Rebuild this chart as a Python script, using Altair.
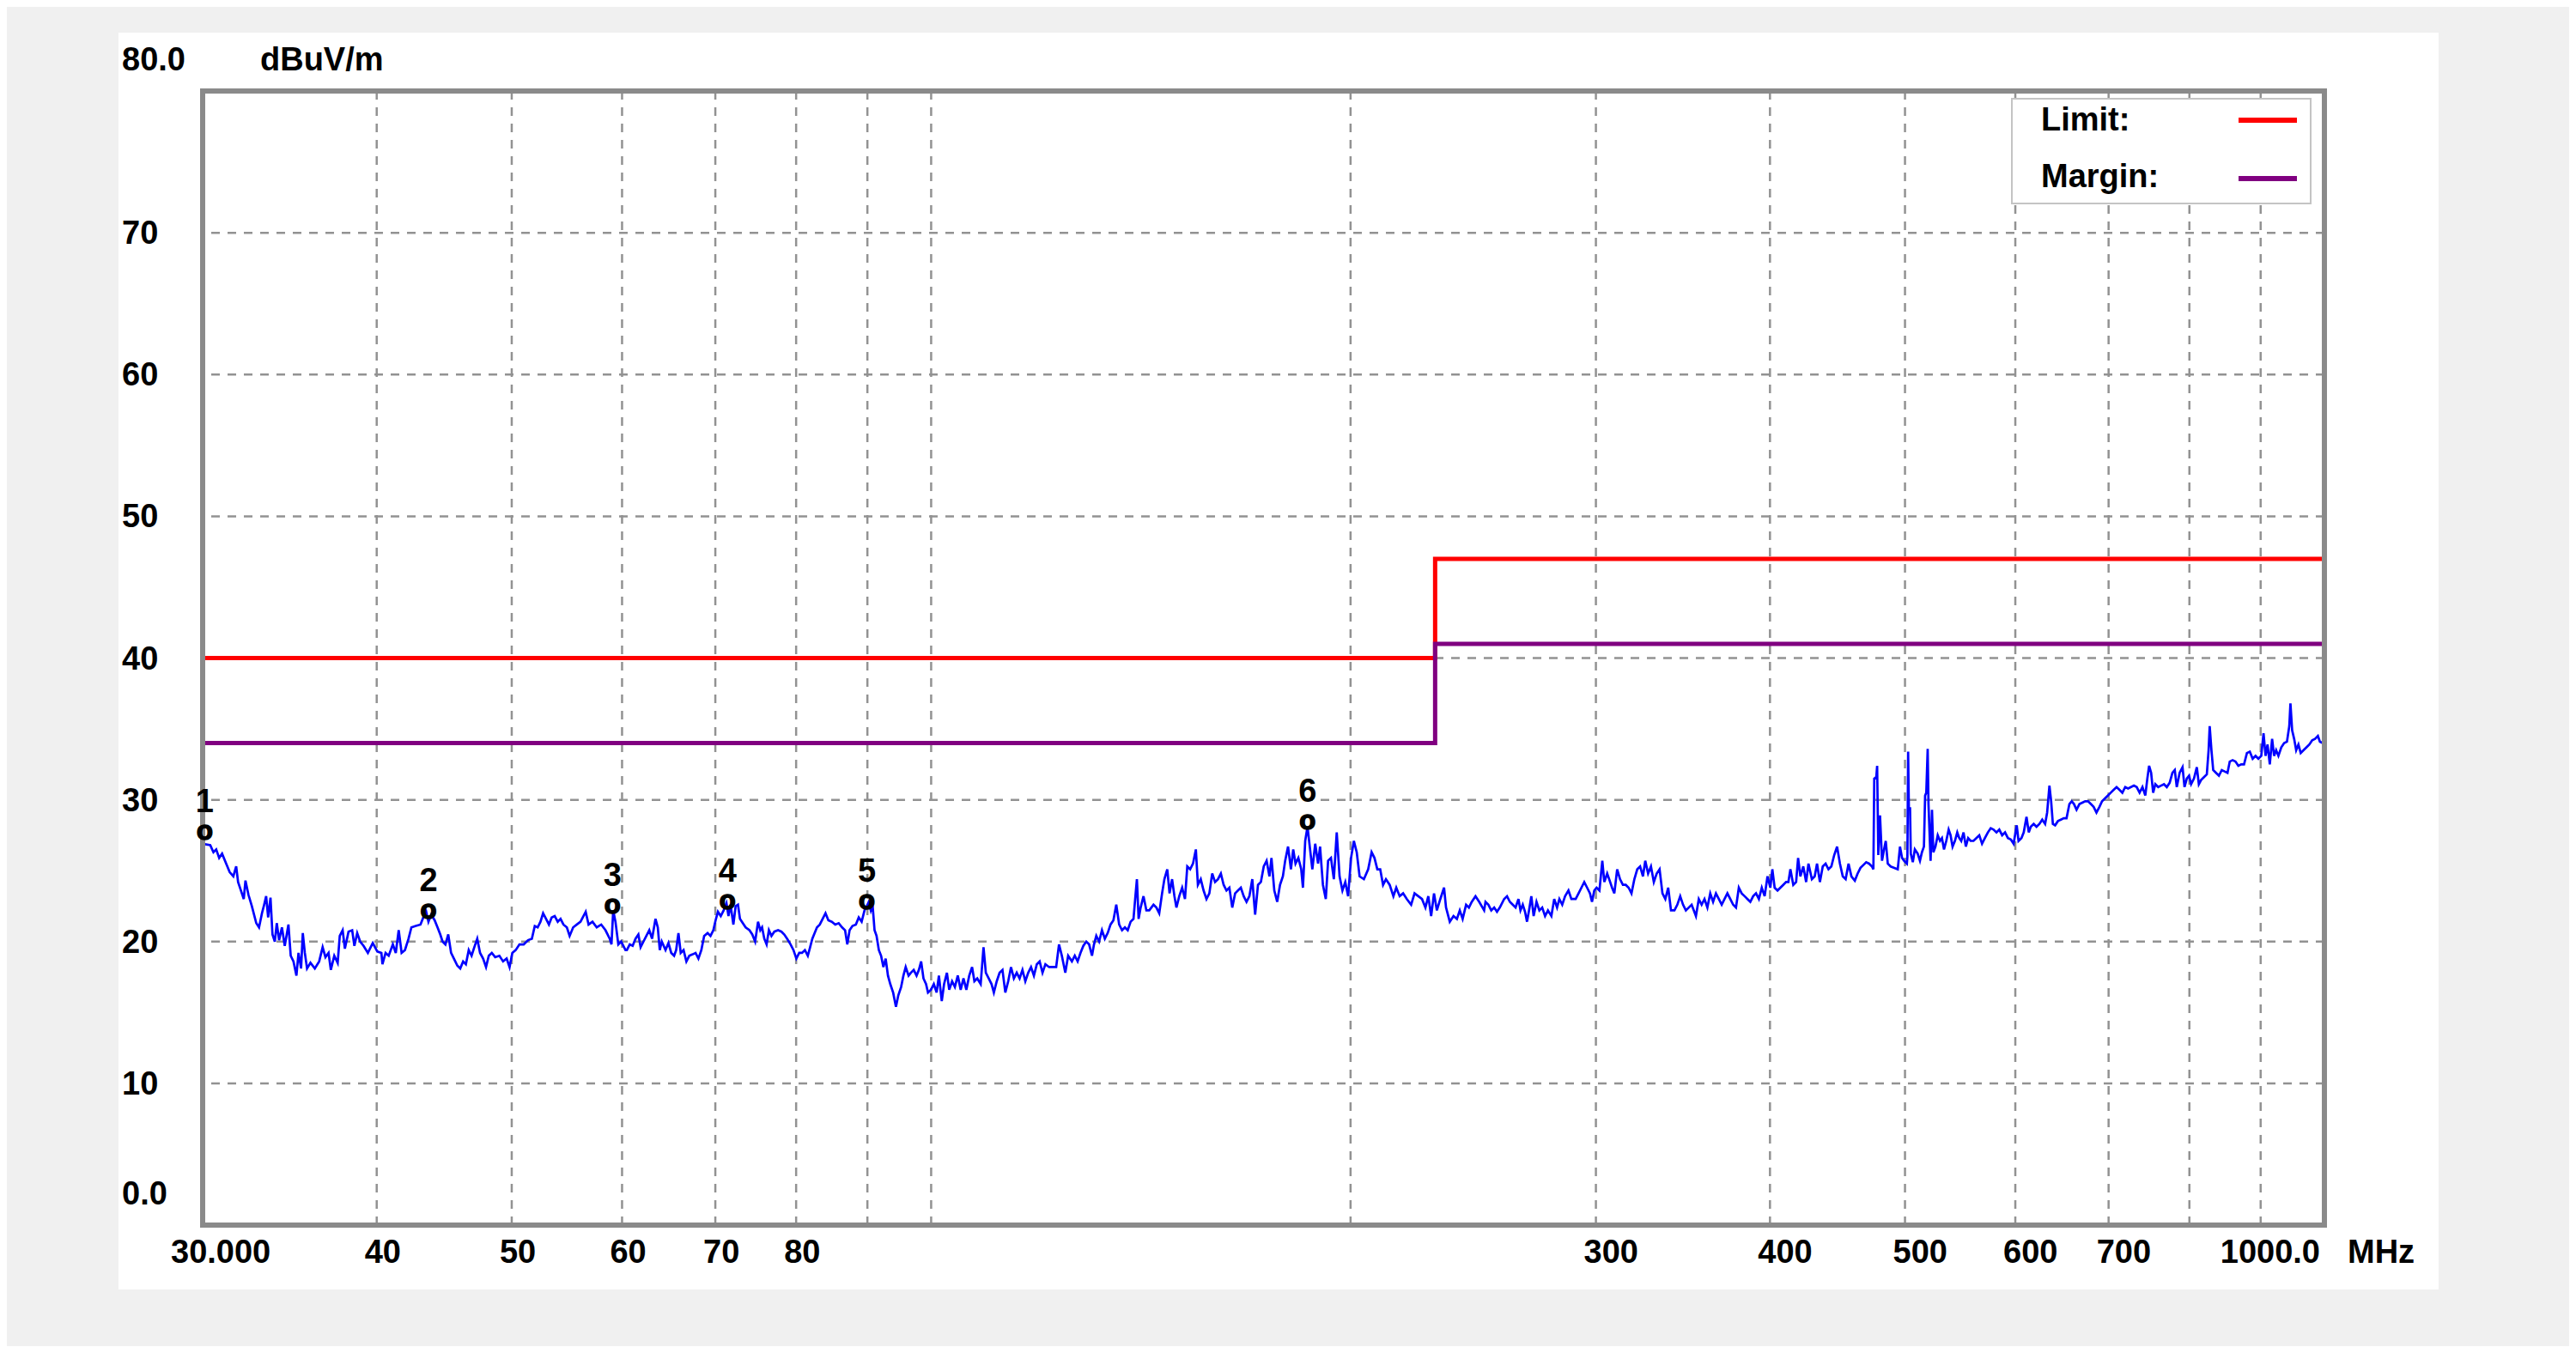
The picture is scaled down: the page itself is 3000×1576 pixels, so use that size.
import altair as alt
import pandas as pd

# ---------------- data ----------------
# measured trace, (frequency MHz, level dBuV/m), split by frequency band
TRACE_30_60 = [
    (30.0, 26.9), (30.38, 26.8), (30.54, 26.3), (30.68, 26.5), (30.83, 25.9), (30.98, 26.2),
    (31.19, 25.5), (31.37, 24.9), (31.56, 24.6), (31.71, 25.3), (31.81, 24.2), (31.96, 23.6),
    (32.11, 23.0), (32.20, 24.3), (32.36, 23.3), (32.54, 22.5), (32.78, 21.3), (32.93, 21.0),
    (33.09, 22.0), (33.21, 22.6), (33.32, 23.2), (33.43, 21.7), (33.56, 23.1), (33.67, 20.5),
    (33.80, 20.0), (33.91, 21.3), (34.04, 20.1), (34.20, 21.0), (34.36, 19.7), (34.57, 21.2),
    (34.70, 19.0), (34.86, 18.6), (35.03, 17.6), (35.15, 19.2), (35.30, 18.1), (35.40, 20.6),
    (35.52, 19.2), (35.65, 18.1), (35.85, 18.5), (36.11, 18.1), (36.37, 18.6), (36.58, 19.6),
    (36.75, 18.9), (36.94, 19.2), (37.08, 18.0), (37.29, 19.0), (37.50, 18.5), (37.63, 20.4),
    (37.81, 20.8), (37.95, 19.5), (38.18, 20.7), (38.41, 20.8), (38.55, 19.7), (38.73, 20.6),
    (38.92, 20.0), (39.14, 19.7), (39.42, 19.2), (39.74, 19.9), (40.04, 19.3), (40.31, 19.2),
    (40.38, 18.4), (40.59, 19.2), (40.80, 19.0), (41.08, 19.8), (41.28, 19.2), (41.48, 20.8),
    (41.68, 19.2), (41.91, 19.4), (42.16, 20.2), (42.36, 21.0), (42.67, 21.1), (43.00, 21.2),
    (43.20, 21.7), (43.41, 22.1), (43.57, 21.4), (43.77, 21.9), (44.02, 21.5), (44.23, 21.0),
    (44.43, 20.5), (44.60, 20.0), (44.81, 19.8), (45.02, 20.5), (45.23, 19.2), (45.49, 18.7),
    (45.70, 18.3), (45.92, 18.1), (46.14, 18.6), (46.35, 18.4), (46.57, 19.4), (46.79, 19.0),
    (47.00, 19.6), (47.23, 20.2), (47.45, 19.2), (47.69, 18.8), (47.92, 18.2), (48.14, 19.0),
    (48.38, 19.2), (48.65, 18.9), (48.99, 19.0), (49.29, 18.6), (49.58, 18.8), (49.82, 18.2),
    (50.05, 19.2), (50.33, 19.4), (50.64, 19.8), (51.00, 19.8), (51.37, 20.1), (51.69, 20.2),
    (51.94, 21.1), (52.19, 21.0), (52.43, 21.4), (52.66, 22.0), (52.92, 21.6), (53.17, 21.2),
    (53.41, 21.7), (53.68, 21.8), (53.95, 21.4), (54.20, 21.6), (54.46, 21.2), (54.77, 21.0),
    (55.02, 20.4), (55.34, 21.0), (55.68, 21.2), (56.02, 21.4), (56.29, 21.8), (56.50, 22.1),
    (56.77, 21.2), (57.14, 21.4), (57.54, 21.0), (57.97, 21.2), (58.38, 20.8), (58.79, 20.2),
    (58.96, 19.8), (59.13, 22.2), (59.35, 21.4), (59.63, 19.8), (59.91, 20.0), (60.34, 19.4),
]
TRACE_60_122 = [
    (60.48, 19.4), (60.77, 19.8), (61.06, 19.7), (61.35, 20.2), (61.64, 20.5), (61.87, 19.6),
    (62.16, 20.0), (62.46, 20.4), (62.76, 20.8), (63.05, 20.2), (63.41, 21.6), (63.65, 21.0),
    (63.86, 19.4), (64.07, 20.0), (64.47, 19.4), (64.78, 19.9), (65.08, 19.2), (65.39, 19.0),
    (65.61, 19.4), (65.86, 20.6), (66.11, 19.2), (66.42, 19.4), (66.73, 18.6), (67.05, 19.0),
    (67.43, 19.1), (67.75, 19.2), (68.07, 18.8), (68.40, 19.4), (68.72, 20.4), (69.11, 20.6),
    (69.44, 20.4), (69.77, 20.8), (70.03, 21.5), (70.30, 22.1), (70.63, 21.8), (70.97, 22.2),
    (71.30, 22.7), (71.54, 21.8), (71.78, 22.6), (72.12, 21.2), (72.39, 22.5), (72.67, 22.6),
    (72.91, 21.6), (73.25, 21.3), (73.60, 21.0), (74.06, 20.8), (74.41, 20.5), (74.76, 20.0),
    (75.12, 21.4), (75.40, 20.8), (75.62, 21.0), (75.90, 20.2), (76.19, 19.8), (76.48, 20.8),
    (76.80, 20.4), (77.17, 20.7), (77.65, 20.8), (78.08, 20.7), (78.45, 20.5), (78.82, 20.2),
    (79.27, 19.8), (79.65, 19.4), (80.03, 18.8), (80.41, 19.2), (80.79, 19.2), (81.17, 19.4),
    (81.56, 19.0), (81.87, 19.6), (82.17, 20.2), (82.49, 20.6), (82.80, 21.0), (83.19, 21.2),
    (83.58, 21.6), (83.98, 22.0), (84.38, 21.5), (84.86, 21.4), (85.35, 21.2), (85.83, 21.3),
    (86.32, 21.0), (86.74, 20.8), (87.06, 19.8), (87.39, 20.8), (87.81, 21.1), (88.30, 21.2),
    (88.72, 21.7), (89.15, 21.4), (89.57, 22.2), (89.91, 22.5), (90.20, 22.8), (90.51, 22.2),
    (90.77, 22.6), (91.07, 20.8), (91.37, 20.4), (91.72, 19.4), (92.06, 19.0), (92.41, 18.2),
    (92.76, 18.8), (93.11, 17.6), (93.47, 17.0), (93.91, 16.4), (94.35, 15.4), (94.71, 16.2),
    (95.16, 16.8), (95.52, 17.6), (95.88, 18.2), (96.34, 17.6), (96.70, 17.8), (97.16, 18.0),
    (97.62, 17.6), (97.99, 18.0), (98.36, 18.6), (98.74, 17.4), (99.16, 17.0), (99.48, 16.4),
    (99.96, 16.6), (100.44, 17.0), (100.91, 16.4), (101.29, 17.6), (101.77, 15.8), (102.16, 17.0),
    (102.64, 17.8), (103.03, 16.6), (103.52, 17.2), (104.00, 16.8), (104.50, 17.6), (105.00, 16.6),
    (105.49, 17.4), (105.99, 16.6), (106.50, 17.6), (107.00, 18.2), (107.41, 17.2), (107.92, 17.4),
    (108.53, 17.0), (109.04, 19.6), (109.46, 17.8), (109.98, 17.4), (110.50, 17.0), (110.92, 16.4),
    (111.45, 17.2), (111.98, 17.8), (112.51, 18.0), (113.04, 16.4), (113.58, 17.2), (114.11, 18.2),
    (114.65, 17.4), (115.19, 17.8), (115.74, 17.4), (116.29, 18.0), (116.84, 17.2), (117.40, 17.8),
    (117.95, 18.2), (118.51, 17.6), (119.08, 18.4), (119.64, 18.6), (120.21, 17.8), (120.78, 18.4),
    (121.53, 18.2), (122.40, 18.2),
]
TRACE_122_250 = [
    (122.95, 18.2), (123.53, 19.8), (124.11, 19.0), (124.82, 17.8), (125.41, 19.0), (126.19, 18.6),
    (126.79, 19.0), (127.39, 18.6), (127.99, 19.2), (128.60, 19.7), (129.22, 20.0), (129.83, 19.8),
    (130.45, 19.0), (130.88, 19.8), (131.38, 20.4), (131.99, 20.0), (132.62, 20.8), (133.25, 20.2),
    (133.88, 20.6), (134.51, 21.2), (135.15, 21.5), (135.79, 22.6), (136.44, 21.2), (137.09, 20.8),
    (137.74, 21.0), (138.39, 20.8), (139.05, 21.4), (139.71, 21.6), (140.10, 23.0), (140.50, 24.4),
    (140.90, 21.6), (141.37, 22.4), (142.04, 23.2), (142.72, 22.2), (143.40, 22.2), (144.41, 22.6),
    (145.09, 22.4), (145.78, 22.0), (146.47, 23.4), (147.03, 24.4), (147.73, 25.1), (148.29, 23.4),
    (148.91, 24.4), (149.49, 23.2), (149.98, 22.4), (150.69, 23.2), (151.41, 23.8), (152.12, 23.0),
    (152.70, 25.3), (153.43, 25.1), (154.15, 25.5), (154.88, 26.5), (155.40, 24.0), (156.14, 24.4),
    (156.87, 23.6), (157.62, 23.0), (158.37, 23.4), (159.12, 24.8), (159.87, 24.2), (160.64, 24.4),
    (161.41, 24.8), (162.16, 24.0), (162.92, 23.6), (163.70, 23.8), (164.48, 22.4), (165.26, 23.4),
    (166.04, 23.6), (166.83, 23.8), (167.62, 23.2), (168.41, 22.8), (169.21, 23.2), (170.02, 24.4),
    (170.82, 21.9), (171.63, 24.0), (172.45, 24.2), (173.27, 25.3), (174.09, 25.7), (174.91, 24.6),
    (175.49, 25.9), (176.32, 23.6), (177.16, 22.8), (177.99, 24.0), (178.84, 24.6), (179.51, 25.7),
    (180.37, 26.7), (181.23, 25.1), (181.92, 26.5), (182.61, 25.5), (183.47, 25.9), (184.34, 25.1),
    (184.86, 23.8), (185.56, 27.1), (186.26, 28.1), (186.96, 26.7), (187.76, 25.1), (188.65, 26.9),
    (189.54, 25.5), (190.17, 26.7), (191.07, 24.0), (191.98, 23.0), (192.71, 25.7), (193.63, 25.9),
    (194.55, 24.4), (195.48, 27.7), (196.40, 24.6), (197.33, 23.6), (198.26, 24.2), (199.20, 23.2),
    (200.16, 25.9), (201.10, 27.1), (202.05, 26.3), (203.01, 24.6), (204.46, 24.4), (205.91, 25.1),
    (207.08, 26.3), (208.06, 25.9), (209.05, 25.1), (210.04, 25.1), (211.04, 24.0), (212.04, 24.4),
    (213.35, 24.0), (214.67, 23.2), (215.69, 23.8), (216.91, 23.2), (218.15, 23.4), (219.49, 23.0),
    (221.06, 22.6), (222.31, 23.4), (223.68, 23.2), (225.06, 23.0), (226.34, 22.4), (227.42, 23.2),
    (228.49, 21.8), (229.58, 23.4), (230.67, 22.2), (231.98, 23.0), (233.41, 23.8), (234.18, 22.4),
    (235.64, 21.4), (237.09, 21.8), (238.43, 21.6), (239.56, 22.2), (240.70, 21.6), (242.07, 22.6),
    (243.21, 22.4), (244.36, 22.8), (245.87, 23.2), (247.38, 22.8), (249.40, 22.2),
]
TRACE_250_508 = [
    (249.97, 22.8), (251.16, 22.6), (252.36, 22.2), (253.57, 22.4), (254.75, 22.1), (255.95, 22.4),
    (257.78, 23.0), (259.01, 23.2), (260.24, 22.8), (261.47, 22.6), (262.70, 22.4), (263.96, 23.0),
    (264.84, 22.2), (265.84, 22.6), (266.84, 22.1), (267.72, 21.4), (268.61, 22.2), (269.63, 23.2),
    (270.66, 21.8), (271.95, 22.8), (273.24, 22.2), (274.52, 22.4), (275.83, 21.8), (277.14, 22.2),
    (278.71, 21.8), (280.03, 23.0), (281.35, 22.4), (282.42, 23.0), (283.76, 22.6), (285.11, 23.2),
    (286.70, 23.6), (288.08, 23.0), (290.14, 23.0), (291.52, 23.4), (292.90, 23.8), (294.28, 24.2),
    (295.68, 23.8), (297.08, 23.4), (298.07, 22.8), (299.20, 23.6), (300.33, 23.8), (301.76, 23.6),
    (303.19, 25.7), (304.20, 24.2), (305.64, 24.8), (306.66, 24.4), (308.11, 23.8), (309.27, 23.4),
    (310.73, 25.1), (312.20, 24.4), (313.68, 24.0), (315.18, 24.0), (316.67, 23.8), (318.17, 23.4),
    (319.69, 24.4), (321.22, 25.1), (322.74, 25.3), (324.26, 24.6), (325.49, 25.7), (327.03, 24.8),
    (328.58, 25.3), (330.14, 24.2), (331.71, 24.8), (333.29, 25.1), (334.88, 23.4), (336.47, 23.0),
    (338.07, 23.8), (339.64, 22.2), (341.58, 22.2), (343.21, 22.6), (344.85, 23.2), (346.47, 22.6),
    (348.10, 22.2), (349.77, 22.4), (351.43, 22.6), (353.93, 21.8), (355.60, 23.0), (357.28, 22.6),
    (358.98, 23.0), (360.69, 22.4), (362.40, 23.4), (364.11, 22.8), (365.83, 23.4), (367.58, 23.0),
    (369.33, 22.6), (371.07, 23.0), (372.82, 23.4), (374.59, 23.0), (376.37, 22.6), (378.15, 22.4),
    (379.93, 23.8), (381.73, 23.4), (383.56, 23.2), (385.39, 23.0), (387.22, 22.8), (389.05, 23.2),
    (390.88, 23.4), (392.74, 23.0), (394.62, 23.8), (396.49, 23.2), (398.37, 24.6), (400.24, 23.8),
    (401.56, 25.1), (403.10, 23.8), (405.02, 23.6), (406.94, 23.8), (408.86, 24.0), (410.78, 24.2),
    (412.35, 24.2), (413.73, 25.1), (415.70, 24.0), (417.66, 24.2), (419.04, 25.9), (420.62, 24.6),
    (422.63, 25.3), (424.64, 24.2), (426.27, 25.5), (428.68, 24.4), (430.69, 24.6), (432.34, 25.5),
    (434.40, 24.2), (436.46, 25.3), (438.53, 25.5), (440.59, 25.1), (442.69, 25.3), (444.80, 26.1),
    (446.91, 26.7), (449.02, 25.5), (451.13, 24.6), (453.29, 24.4), (455.46, 25.5), (457.63, 24.6),
    (460.23, 24.3), (462.36, 24.8), (464.55, 25.2), (466.73, 25.4), (468.93, 25.6), (471.16, 25.5),
    (473.42, 25.3), (474.55, 25.1), (475.23, 31.5), (476.83, 31.6), (477.51, 32.4), (478.42, 26.1),
    (479.78, 28.9), (481.38, 25.7), (482.98, 26.5), (484.35, 27.1), (485.96, 25.5), (488.29, 25.3),
    (491.26, 25.2), (494.04, 25.1), (495.89, 26.7), (497.55, 25.9), (499.20, 25.7), (501.55, 25.5),
    (502.0, 26.0), (502.6, 33.4), (503.2, 29.4), (504.2, 29.4), (504.8, 26.2), (506.5, 25.6),
]
TRACE_508_1000 = [
    (508.2, 26.5), (510.6, 26.2), (512.5, 25.7), (514.2, 26.3), (515.9, 26.7), (516.9, 30.3),
    (517.9, 30.5), (519.1, 33.6), (519.8, 29.7), (521.6, 25.7), (522.8, 29.3), (524.0, 26.3),
    (525.8, 26.7), (527.8, 27.5), (529.8, 27.1), (531.5, 27.3), (533.3, 26.5), (535.3, 27.1),
    (537.4, 27.9), (539.1, 27.5), (540.9, 26.7), (543.0, 27.1), (545.1, 27.7), (546.9, 27.3),
    (548.7, 27.1), (550.8, 27.7), (552.9, 26.7), (555.0, 27.3), (557.3, 27.1), (559.9, 27.1),
    (562.6, 27.3), (565.3, 27.5), (567.9, 26.9), (570.6, 27.3), (573.4, 27.7), (576.1, 28.0),
    (578.8, 27.9), (581.6, 27.7), (584.3, 27.9), (587.1, 27.5), (589.9, 27.7), (592.7, 27.3),
    (595.5, 27.2), (598.3, 26.9), (601.4, 28.2), (603.2, 27.1), (606.1, 27.3), (608.4, 27.7),
    (611.2, 28.8), (613.5, 27.7), (615.5, 28.1), (618.5, 28.3), (621.4, 28.1), (624.4, 28.3),
    (627.3, 28.6), (630.3, 28.3), (632.4, 29.1), (634.8, 31.0), (636.6, 29.9), (638.4, 28.3),
    (640.8, 28.2), (643.8, 28.5), (646.9, 28.6), (650.0, 28.7), (653.0, 28.7), (656.1, 29.7),
    (658.6, 29.9), (661.1, 29.7), (663.9, 29.3), (667.1, 29.7), (670.2, 29.8), (673.4, 29.9),
    (676.6, 29.9), (679.8, 29.7), (682.9, 29.5), (686.1, 29.1), (689.5, 29.5), (692.5, 29.9),
    (695.8, 30.1), (699.1, 30.3), (702.5, 30.5), (705.9, 30.7), (709.3, 30.9), (712.7, 30.7),
    (716.1, 30.5), (719.5, 30.9), (722.9, 30.8), (726.4, 30.9), (729.9, 31.0), (733.3, 30.9),
    (736.8, 30.5), (740.3, 30.9), (743.8, 30.3), (746.3, 31.5), (748.5, 32.4), (751.0, 31.9),
    (753.5, 30.5), (756.2, 31.1), (759.8, 30.9), (763.4, 31.0), (767.1, 31.1), (770.7, 30.9),
    (774.3, 31.2), (777.9, 31.9), (780.9, 32.1), (783.5, 30.9), (787.2, 31.9), (791.0, 32.3),
    (793.6, 30.9), (796.6, 31.5), (799.6, 31.7), (802.3, 31.1), (806.1, 31.5), (809.9, 32.3),
    (812.6, 31.1), (815.6, 31.4), (819.5, 31.6), (823.4, 31.8), (825.8, 33.5), (827.3, 35.2),
    (829.7, 33.5), (832.1, 32.1), (836.0, 31.9), (840.0, 31.7), (844.0, 32.1), (848.0, 32.0),
    (852.0, 31.9), (855.2, 32.7), (859.2, 32.8), (863.3, 32.7), (867.4, 32.4), (871.5, 32.5),
    (875.6, 32.5), (879.8, 33.3), (884.0, 33.4), (888.2, 32.9), (892.4, 33.1), (896.6, 32.9),
    (900.9, 33.1), (904.3, 34.7), (907.3, 33.1), (910.3, 33.9), (913.7, 32.5), (917.2, 34.3),
    (920.2, 33.1), (923.3, 33.5), (926.8, 33.1), (931.2, 33.7), (935.6, 34.0), (940.0, 34.1),
    (943.6, 35.2), (945.4, 36.8), (948.1, 34.9), (951.2, 34.3), (954.4, 33.5), (958.0, 33.9),
    (961.6, 33.3), (966.2, 33.5), (970.8, 33.7), (975.4, 33.9), (980.0, 34.2), (984.6, 34.3),
    (989.3, 34.5), (992.6, 34.1), (997.4, 34.0), (1000.0, 34.3),
]

LIMIT_FREQ = [30, 230, 1000]
LIMIT_LEVEL = [40, 47, 47]
MARGIN_LEVEL = [34, 41, 41]

MARKER_NO = ["1", "2", "3", "4", "5", "6"]
MARKER_FREQ = [30.1, 43.57, 59.05, 71.42, 89.91, 186.26]
MARKER_LEVEL = [27.2, 21.6, 22.0, 22.3, 22.3, 27.9]

GRID_FREQ = [40, 50, 60, 70, 80, 90, 100, 200, 300, 400, 500, 600, 700, 800, 900]
GRID_LEVEL = [10, 20, 30, 40, 50, 60, 70]
X_TICK_FREQ = [40, 50, 60, 70, 80, 300, 400, 500, 600, 700]
X_TICK_TEXT = ["40", "50", "60", "70", "80", "300", "400", "500", "600", "700"]
Y_TICK_LEVEL = [70, 60, 50, 40, 30, 20, 10]
Y_TICK_TEXT = ["70", "60", "50", "40", "30", "20", "10"]
Y_END_LEVEL = [80, 0]
Y_END_TEXT = ["80.0", "0.0"]
FREQ_MIN, FREQ_MAX = 30, 1000
LEVEL_MIN, LEVEL_MAX = 0, 80

# ---------------- styling ----------------
W, H = 2471, 1321
FONT = "Liberation Sans"
FS = 38
GRID_COLOR = "#929292"
FRAME_COLOR = "#8a8a8a"
LIMIT_COLOR = "#ff0000"
MARGIN_COLOR = "#800080"
TRACE_COLOR = "#0000ff"

XS = alt.Scale(type="log", domain=[FREQ_MIN, FREQ_MAX], nice=False)
YS = alt.Scale(domain=[LEVEL_MIN, LEVEL_MAX], nice=False, zero=False)


def X(field="f"):
    return alt.X(f"{field}:Q", scale=XS, axis=None)


def Y(field="v"):
    return alt.Y(f"{field}:Q", scale=YS, axis=None)


def PX(field):
    return alt.X(f"{field}:Q", scale=None, axis=None)


def PY(field):
    return alt.Y(f"{field}:Q", scale=None, axis=None)


trace_rows = TRACE_30_60 + TRACE_60_122 + TRACE_122_250 + TRACE_250_508 + TRACE_508_1000
trace_df = pd.DataFrame(trace_rows, columns=["f", "v"])

limit_df = pd.DataFrame({
    "f": LIMIT_FREQ + LIMIT_FREQ,
    "v": LIMIT_LEVEL + MARGIN_LEVEL,
    "s": ["Limit"] * len(LIMIT_FREQ) + ["Margin"] * len(LIMIT_FREQ),
})
marker_df = pd.DataFrame({"f": MARKER_FREQ, "v": MARKER_LEVEL, "n": MARKER_NO,
                          "o": ["o"] * len(MARKER_NO)})

text_kw = dict(font=FONT, fontSize=FS, fontWeight="bold", color="black", baseline="alphabetic")

# white panel behind the chart (layout box, pixel space)
panel = alt.Chart(pd.DataFrame({"x": [-98], "x2": [2604], "y": [-68], "y2": [1396]})).mark_rect(
    fill="white").encode(x=PX("x"), x2="x2:Q", y=PY("y"), y2="y2:Q")

vgrid = alt.Chart(pd.DataFrame({"f": GRID_FREQ})).mark_rule(
    color=GRID_COLOR, strokeWidth=2.5, strokeDash=[10, 9]
).encode(x=X())

hgrid = alt.Chart(pd.DataFrame({"v": GRID_LEVEL})).mark_rule(
    color=GRID_COLOR, strokeWidth=2.5, strokeDash=[10, 9]
).encode(y=Y())

limits = alt.Chart(limit_df).mark_line(interpolate="step-after", strokeWidth=5).encode(
    x=X(), y=Y(),
    color=alt.Color("s:N", scale=alt.Scale(domain=["Limit", "Margin"],
                                           range=[LIMIT_COLOR, MARGIN_COLOR]), legend=None),
)

trace = alt.Chart(trace_df).mark_line(color=TRACE_COLOR, strokeWidth=2.7).encode(x=X(), y=Y())

frame = alt.Chart(pd.DataFrame({"f": [FREQ_MIN], "f2": [FREQ_MAX],
                                "v": [LEVEL_MIN], "v2": [LEVEL_MAX]})).mark_rect(
    fillOpacity=0, stroke=FRAME_COLOR, strokeWidth=6
).encode(x=X(), x2="f2:Q", y=Y(), y2="v2:Q")

# legend (top right, inside the plot; pixel layout)
leg_box = alt.Chart(pd.DataFrame({"x": [2107], "x2": [2455], "y": [9], "y2": [131]})).mark_rect(
    fill="white", stroke="#c4c4c4", strokeWidth=2
).encode(x=PX("x"), x2="x2:Q", y=PY("y"), y2="y2:Q")

leg_text = alt.Chart(pd.DataFrame({"t": ["Limit:", "Margin:"], "x": [2141, 2141],
                                   "y": [46, 112]})).mark_text(align="left", **text_kw).encode(
    x=PX("x"), y=PY("y"), text="t:N")

leg_lines = alt.Chart(pd.DataFrame({"s": ["Limit", "Margin"], "x": [2371, 2371],
                                    "x2": [2439, 2439], "y": [34, 102]})).mark_rule(
    strokeWidth=6
).encode(
    x=PX("x"), x2="x2:Q", y=PY("y"),
    color=alt.Color("s:N", scale=alt.Scale(domain=["Limit", "Margin"],
                                           range=[LIMIT_COLOR, MARGIN_COLOR]), legend=None),
)

marker_o = alt.Chart(marker_df).mark_text(
    align="center", font=FONT, fontSize=31, fontWeight="bold", color="black",
    stroke="black", strokeWidth=1.6, baseline="alphabetic"
).encode(x=X(), y=Y(), text="o:N")
marker_n = alt.Chart(marker_df).mark_text(align="center", dy=-32, **text_kw).encode(
    x=X(), y=Y(), text="n:N")

# x tick labels (sit 44px below the bottom edge)
def xlabels(freqs, texts, align, dx):
    df = pd.DataFrame({"f": freqs, "t": texts, "v": [LEVEL_MIN] * len(freqs)})
    return alt.Chart(df).mark_text(align=align, dx=dx, dy=44, **text_kw).encode(
        x=X(), y=Y(), text="t:N")


xlab = xlabels(X_TICK_FREQ, X_TICK_TEXT, "left", -14)
xlab_first = xlabels([FREQ_MIN], ["30.000"], "left", -37)
xlab_last = xlabels([FREQ_MAX], ["1000.0"], "right", -5)
xunit = xlabels([FREQ_MAX], ["MHz"], "left", 27)

# y tick labels
def ylabels(levels, texts, dy, x):
    df = pd.DataFrame({"v": levels, "t": texts, "x": [x] * len(levels)})
    return alt.Chart(df).mark_text(align="left", dy=dy, **text_kw).encode(
        x=PX("x"), y=Y(), text="t:N")


ylab = ylabels(Y_TICK_LEVEL, Y_TICK_TEXT, 13, -94)
ylab_end = ylabels(Y_END_LEVEL, Y_END_TEXT, -24, -94)
yunit = ylabels([LEVEL_MAX], ["dBuV/m"], -24, 67)

chart = alt.layer(
    panel, vgrid, hgrid, limits, trace, frame, leg_box, leg_text, leg_lines,
    marker_o, marker_n, xlab, xlab_first, xlab_last, xunit, ylab, ylab_end, yunit,
).resolve_scale(color="shared").properties(
    width=W, height=H,
    autosize=alt.AutoSizeParams(type="none"),
    padding={"left": 228, "top": 98, "right": 285, "bottom": 141},
    background="#f0f0f0",
).configure_view(stroke=None)

chart.save("out.html", embed_options={"renderer": "svg", "actions": False})
